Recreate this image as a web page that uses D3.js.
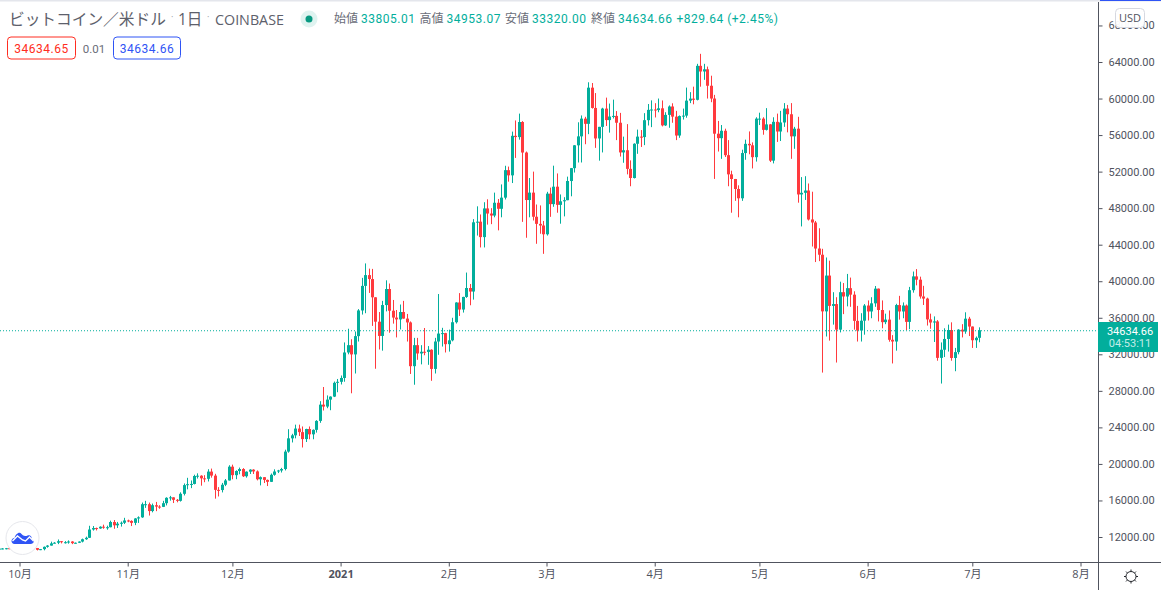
<!DOCTYPE html>
<html lang="ja">
<head>
<meta charset="utf-8">
<title>BTCUSD</title>
<script src="https://cdn.jsdelivr.net/npm/d3@7"></script>
<style>
  html, body { margin: 0; padding: 0; background: #fff; overflow: hidden; }
  svg { display: block; }
  text { font-family: "Open Sans", "Noto Sans CJK JP", sans-serif; }
  .num { font-family: Roboto, "Noto Sans CJK JP", sans-serif; }
</style>
</head>
<body>
<div id="graf"></div>
<script>
// daily candles 2020-09-25 .. 2021-07-03
const startDay = "2020-09-25";
const opens = [
  10670,10730,10745,10770,10695,10840,
  10775,10620,10575,10550,10670,10790,10600,10670,10925,11060,11300,11375,11540,11430,11430,11505,11325,11370,11500,11755,11915,12820,12980,12935,13125,13040,13070,13640,13280,13460,13560,
  13810,13760,13550,14030,14150,15590,15590,14840,15480,15330,15300,15700,16290,16340,16070,15960,16730,17680,17780,17810,18680,18710,18420,18370,19160,18720,17160,17140,17720,18190,
  19700,18770,19225,19440,18650,19150,19375,19180,18320,18550,18250,18040,18810,19170,19280,19440,21350,22800,23130,23870,23480,22720,23825,23240,23730,24710,26490,26280,27040,27370,28880,
  28990,29410,32200,33000,31990,33990,36800,39490,40670,40240,38240,35570,34010,37390,39150,36770,36020,35820,36630,35910,35490,30700,33000,32090,32280,32260,32500,30400,33400,34270,34320,
  33110,33530,35510,37670,36900,38280,39260,38870,46450,46520,44830,47970,47410,47190,48590,47930,49150,52160,51590,55920,55780,57430,54090,48890,49700,47060,46280,46100,
  45140,49590,48440,50350,48360,48750,48870,50970,52380,54880,55860,57800,57230,61190,58970,55630,56900,58900,57640,58030,58100,57350,54100,54340,52300,51300,55050,55830,55780,57630,58760,
  58800,58740,58930,57060,58210,59130,58020,55950,58080,58130,59770,59990,59860,63580,62960,63200,61400,60000,56150,55660,56470,53800,51700,51190,50100,49080,54030,55040,54880,53580,
  57800,57800,56570,57170,53200,57450,56390,57380,58900,58280,55860,56700,49500,49680,49930,46760,46430,43580,42900,36700,40620,37300,37500,34700,38800,38330,39240,38530,35660,34600,35680,
  37340,36690,37580,39190,36850,35520,35800,33590,33400,37390,36690,37340,35550,39020,40530,40170,38330,38100,35820,35480,35600,31610,32500,33680,34660,31600,32240,34700,34500,35900,
  35040,33540,33805.01
];
const highs = [
  10770,10780,10800,10950,10860,10850,
  10920,10660,10595,10700,10800,10800,10680,10960,11110,11490,11440,11730,11560,11550,11630,11545,11400,11520,11825,12040,13230,13200,13030,13170,13350,13240,13790,13860,13650,13700,14100,
  13900,13830,14070,14260,15770,15960,15770,15660,15840,15480,15960,16350,16500,16350,16160,16890,17860,18480,18190,18820,18970,18760,18770,19420,19490,18920,17460,17920,18350,19860,
  19920,19300,19600,19540,19180,19420,19420,19290,18630,18560,18290,18950,19410,19350,19570,21560,23800,23300,24300,24300,24100,23850,24100,23780,24790,26870,28420,27500,27400,29020,29300,
  29680,33300,34800,33650,34500,36950,40370,41950,41380,41350,38250,36630,37850,40100,39750,37950,36850,37450,37850,36420,35600,33800,33800,33000,34880,32900,32550,33800,38600,34900,34350,
  34700,36000,37700,38700,38300,40950,39700,46800,48200,47310,48650,48970,48000,49700,49000,50600,52640,52550,56380,57600,58350,57530,54200,51300,52000,48400,48300,46600,
  49790,50250,52650,51800,49500,49200,51450,52400,54900,57400,58150,58000,61780,61700,60600,56900,58990,60100,59450,59880,58630,58430,55830,57200,53230,55100,56600,56550,58400,59400,59800,
  59490,60000,59790,58500,59250,59480,58650,58150,58900,61200,60700,61300,63800,64895,63800,63500,62500,60400,57550,57100,56700,55450,52100,51200,50500,54400,55500,56400,55200,57950,
  58450,57950,58950,57200,57950,58350,58650,59500,59300,59500,56900,58000,51400,51500,50700,49800,46600,45800,43550,42600,42250,38800,38250,39950,39800,40800,40400,38900,37300,36500,37500,
  37900,38250,39480,39200,37900,36450,36800,34100,37530,38400,37680,37450,39380,41060,41330,40500,39500,38200,36450,36150,35750,33300,34850,35250,35500,32700,34750,35300,36600,36100,
  35050,33950,34953.07
];
const lows = [
  10620,10650,10650,10670,10640,10660,
  10430,10370,10510,10530,10630,10530,10560,10540,10830,11060,11280,11220,11300,11280,11270,11220,11270,11340,11410,11690,11890,12700,12720,12900,12900,12800,13060,12900,12990,13140,13420,
  13620,13200,13300,13540,14100,15190,14350,14700,14830,15090,15280,15460,15980,15720,15800,15880,16550,17220,17350,17760,18400,17620,18000,18080,18500,16200,16440,16880,17570,18180,
  18320,18330,18870,18570,18500,18900,18900,18200,17650,17910,17580,18020,18710,19000,19060,19290,21230,22350,22800,23060,21800,22400,22700,22700,23430,24500,25850,26100,25880,27320,27850,
  28700,29000,32000,27734,29900,33400,36350,36500,38720,35111,30420,32530,32400,36700,34360,35360,33850,34720,35900,33400,29850,28670,31400,30900,31900,30850,29100,29900,31950,32850,32200,
  32300,33420,35370,36200,36570,38180,37370,37990,45000,43700,43700,46200,46250,47000,45570,47000,48950,50900,50750,53500,55500,46500,44760,47000,46650,44100,45200,43000,
  45000,47050,48150,47500,46300,47100,48870,49300,51900,53000,53000,55000,56100,58900,54600,53200,54100,57000,56270,57820,55450,53650,52970,51700,50400,51250,53950,54700,54900,57050,56870,
  57930,58500,56950,57000,56800,57350,55450,55700,57700,57900,59500,59370,59800,61300,62050,60000,59600,51200,54200,53400,53600,50400,47500,48800,47000,48800,53300,53900,52350,53100,
  57100,56040,56500,53050,52900,55250,55350,56900,56300,53400,54500,48600,46000,48900,46650,43800,42100,42200,30000,33950,33500,35250,31100,34400,36400,37250,37200,34700,33400,33400,34150,
  35700,35950,37200,35600,34850,35300,33380,31000,32400,35800,35950,34650,34750,38750,39550,38100,37400,35150,34800,33350,31300,28800,31700,32300,31300,30150,32000,33850,34250,34000,
  32700,32700,33320.00
];
const closes = [
  10730,10745,10770,10695,10840,10775,
  10620,10575,10550,10670,10790,10600,10670,10925,11060,11300,11375,11540,11430,11430,11505,11325,11370,11500,11755,11915,12820,12980,12935,13125,13040,13070,13640,13280,13460,13560,13810,
  13760,13550,14030,14150,15590,15590,14840,15480,15330,15300,15700,16290,16340,16070,15960,16730,17680,17780,17810,18680,18710,18420,18370,19160,18720,17160,17140,17720,18190,19700,
  18770,19225,19440,18650,19150,19375,19180,18320,18550,18250,18040,18810,19170,19280,19440,21350,22800,23130,23870,23480,22720,23825,23240,23730,24710,26490,26280,27040,27370,28880,28990,
  29410,32200,33000,31990,33990,36800,39490,40670,40240,38240,35570,34010,37390,39150,36770,36020,35820,36630,35910,35490,30700,33000,32090,32280,32260,32500,30400,33400,34270,34320,33110,
  33530,35510,37670,36900,38280,39260,38870,46450,46520,44830,47970,47410,47190,48590,47930,49150,52160,51590,55920,55780,57430,54090,48890,49700,47060,46280,46100,45140,
  49590,48440,50350,48360,48750,48870,50970,52380,54880,55860,57800,57230,61190,58970,55630,56900,58900,57640,58030,58100,57350,54100,54340,52300,51300,55050,55830,55780,57630,58760,58800,
  58740,58930,57060,58210,59130,58020,55950,58080,58130,59770,59990,59860,63580,62960,63200,61400,60000,56150,55660,56470,53800,51700,51190,50100,49080,54030,55040,54880,53580,57800,
  57800,56570,57170,53200,57450,56390,57380,58900,58280,55860,56700,49500,49680,49930,46760,46430,43580,42900,36700,40620,37300,37500,34700,38800,38330,39240,38530,35660,34600,35680,37340,
  36690,37580,39190,36850,35520,35800,33590,33400,37390,36690,37340,35550,39020,40530,40170,38330,38100,35820,35480,35600,31610,32500,33680,34660,31600,32240,34700,34500,35900,35040,
  33540,33805.01,34634.66
];

const priceTicks = [12000,16000,20000,24000,28000,32000,36000,40000,44000,48000,52000,56000,60000,64000,68000];
const monthTicks = ["2020-10-01","2020-11-01","2020-12-01","2021-01-01","2021-02-01","2021-03-01","2021-04-01","2021-05-01","2021-06-01","2021-07-01","2021-08-01"];
const monthLabels = ["10月","11月","12月","2021","2月","3月","4月","5月","6月","7月","8月"];
const lastPrice = 34634.66;

// colores
const colUp = "#02ae9c", colDown = "#ff3a3e", colAxis = "#50535e", colBlue = "#2f54f5";

const W = 1161, H = 590, axisX = 1098, axisY = 562;
const svg = d3.select("#graf").append("svg").attr("width", W).attr("height", H);

const fecha = d3.utcParse("%Y-%m-%d");
const days = d3.utcDay.range(fecha(startDay), d3.utcDay.offset(fecha(startDay), closes.length));

// escalas
const x = d3.scaleUtc().domain([fecha("2020-10-01"), fecha("2021-08-01")]).range([19.5, 1080.5]);
const y = d3.scaleLinear().domain([12000, 64000]).range([537, 62]);

// lineas de arriba
svg.append("rect").attr("x", 0).attr("y", 0).attr("width", W).attr("height", 1.5).attr("fill", "#e4e6ec");
svg.append("rect").attr("x", 1100).attr("y", 0).attr("width", 61).attr("height", 1).attr("fill", colBlue);

// velas
const velas = svg.append("g").selectAll("g").data(days).enter().append("g")
  .attr("fill", (d, i) => closes[i] >= opens[i] ? colUp : colDown);
velas.append("rect")
  .attr("x", d => Math.round(x(d)))
  .attr("width", 1)
  .attr("y", (d, i) => y(highs[i]))
  .attr("height", (d, i) => y(lows[i]) - y(highs[i]));
velas.append("rect")
  .attr("x", d => Math.round(x(d)) - 1)
  .attr("width", 3)
  .attr("y", (d, i) => y(Math.max(opens[i], closes[i])))
  .attr("height", (d, i) => Math.max(1, Math.abs(y(opens[i]) - y(closes[i]))));

// linea del ultimo precio
svg.append("line")
  .attr("x1", 0).attr("x2", axisX)
  .attr("y1", y(lastPrice) + 0.5).attr("y2", y(lastPrice) + 0.5)
  .attr("stroke", colUp).attr("stroke-width", 1).attr("stroke-dasharray", "1 2");

// ejes
const yAxis = d3.axisRight(y).tickValues(priceTicks).tickSize(4).tickPadding(6).tickFormat(d3.format(".2f"));
const gy = svg.append("g").attr("transform", `translate(${axisX + 0.5},0)`).call(yAxis);
gy.select(".domain").remove();
gy.selectAll("line").attr("stroke", colAxis);
gy.selectAll("text").attr("class", "num").attr("font-size", 11).attr("fill", colAxis);

const xAxis = d3.axisBottom(x).tickValues(monthTicks.map(fecha)).tickSize(4).tickPadding(4)
  .tickFormat((d, i) => monthLabels[i]);
const gx = svg.append("g").attr("transform", `translate(0,${axisY + 0.5})`).call(xAxis);
gx.select(".domain").remove();
gx.selectAll("line").attr("stroke", colAxis);
gx.selectAll("text").attr("font-size", 11).attr("fill", colAxis)
  .attr("font-weight", (d, i) => i == 3 ? 700 : 400);

svg.append("line").attr("x1", 0).attr("x2", W).attr("y1", axisY + 0.5).attr("y2", axisY + 0.5).attr("stroke", colAxis);
svg.append("line").attr("x1", axisX + 0.5).attr("x2", axisX + 0.5).attr("y1", 2).attr("y2", H).attr("stroke", colAxis);

// etiqueta del precio
svg.append("rect").attr("x", axisX).attr("y", 322).attr("width", 60).attr("height", 30).attr("fill", colUp);
svg.append("text").attr("class", "num").attr("x", 1130).attr("y", 334.5).attr("text-anchor", "middle")
  .attr("font-size", 11).attr("fill", "#fff").text(lastPrice.toFixed(2));
svg.append("text").attr("class", "num").attr("x", 1130).attr("y", 347).attr("text-anchor", "middle")
  .attr("font-size", 11).attr("fill", "#c4ece7").text("04:53:11");

// boton USD
svg.append("rect").attr("x", 1115.5).attr("y", 8.5).attr("width", 29).attr("height", 19).attr("rx", 4)
  .attr("fill", "#fff").attr("fill-opacity", 0.95).attr("stroke", "#d6d8e0");
svg.append("text").attr("x", 1130).attr("y", 22).attr("text-anchor", "middle")
  .attr("font-size", 11).attr("fill", colAxis).text("USD");

// icono del sol
const sol = svg.append("g").attr("transform", "translate(1131,576.5)").attr("stroke", "#26282e").attr("fill", "none");
sol.append("circle").attr("r", 5);
d3.range(8).forEach(k => {
  const a = k * Math.PI / 4;
  sol.append("line").attr("x1", 5 * Math.cos(a)).attr("y1", 5 * Math.sin(a))
    .attr("x2", 7 * Math.cos(a)).attr("y2", 7 * Math.sin(a));
});

// titulo
svg.append("text").attr("x", 9).attr("y", 25).attr("font-size", 15.7).attr("fill", "#5d606b").text("ビットコイン／米ドル");
svg.append("text").attr("x", 171).attr("y", 20).attr("font-size", 9).attr("fill", "#9598a1").text("·");
svg.append("text").attr("x", 178).attr("y", 25).attr("font-size", 15.5).attr("fill", "#5d606b").text("1日");
svg.append("text").attr("x", 207).attr("y", 20).attr("font-size", 9).attr("fill", "#9598a1").text("·");
svg.append("text").attr("x", 215).attr("y", 25).attr("font-size", 14.3).attr("fill", "#5d606b").text("COINBASE");

svg.append("circle").attr("cx", 309).attr("cy", 19).attr("r", 8.5).attr("fill", "#dff3f0");
svg.append("circle").attr("cx", 309).attr("cy", 19).attr("r", 3.5).attr("fill", "#089981");

// OHLC de la cabecera
const ohlcLabels = ["始値", "高値", "安値", "終値"];
const ohlcValues = ["33805.01", "34953.07", "33320.00", "34634.66"];
const ohlcX = [334, 419.5, 505, 591];
ohlcLabels.forEach((t, i) => {
  svg.append("text").attr("x", ohlcX[i]).attr("y", 23).attr("font-size", 12).attr("fill", "#6a6d78").text(t);
  svg.append("text").attr("class", "num").attr("x", ohlcX[i] + 27).attr("y", 23).attr("font-size", 12).attr("letter-spacing", 0.5)
    .attr("fill", colUp).text(ohlcValues[i]);
});
svg.append("text").attr("class", "num").attr("x", 676.5).attr("y", 23).attr("font-size", 12).attr("letter-spacing", 0.5)
  .attr("fill", colUp).text("+829.64 (+2.45%)");

// cajas de venta / compra
const cajas = [
  { x: 7.5, w: 68, col: "#ff2d20", txt: "34634.65" },
  { x: 113.5, w: 67, col: colBlue, txt: "34634.66" }
];
cajas.forEach(c => {
  svg.append("rect").attr("x", c.x).attr("y", 37).attr("width", c.w).attr("height", 22).attr("rx", 3.5)
    .attr("fill", "#fff").attr("stroke", c.col);
  svg.append("text").attr("class", "num").attr("x", c.x + c.w / 2).attr("y", 52.5).attr("text-anchor", "middle")
    .attr("font-size", 12).attr("letter-spacing", 0.5).attr("fill", c.col).text(c.txt);
});
svg.append("text").attr("class", "num").attr("x", 94).attr("y", 52.5).attr("text-anchor", "middle")
  .attr("font-size", 11.5).attr("fill", "#6a6d78").text("0.01");

// logo
const logo = svg.append("g").attr("transform", "translate(22.5,538)");
logo.append("circle").attr("r", 16.5).attr("fill", "#fff").attr("stroke", "#e6e7ec").attr("stroke-width", 1);
logo.append("path").attr("fill", colBlue)
  .attr("d", "M-8,6 C-12,6 -12,0 -8,0 C-7,-4 -3,-7 -1,-4 C1,-2 2,-2 4,-2 C7,-4 10,-1 9,1 C12,2 12,6 8,6 Z");
logo.append("path").attr("fill", "none").attr("stroke", "#fff").attr("stroke-width", 1.4)
  .attr("d", "M-10,3 L-5,-2 L0,2 L3,3 L7,-1 L11,3");
</script>
</body>
</html>
